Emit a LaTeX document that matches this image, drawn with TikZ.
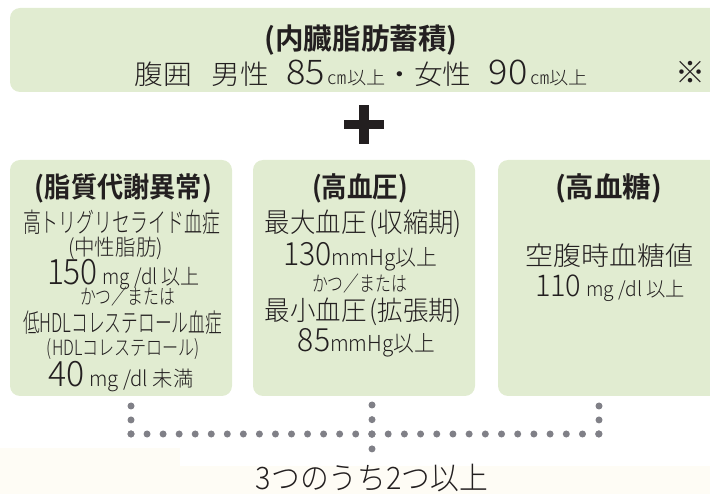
\documentclass[tikz,border=0pt]{standalone}
\usepackage{fontspec}
\usepackage{graphicx}
\setmainfont{Noto Sans CJK JP}[UprightFont=* Light, BoldFont=* Bold]
\definecolor{boxfill}{HTML}{E1ECD1}
\definecolor{ink}{HTML}{231F20}
\definecolor{dotgray}{HTML}{808087}
\definecolor{cream}{HTML}{FEFCF5}
\newcommand\fs[1]{\fontsize{#1}{#1}\selectfont}
\newcommand\lw[2]{\resizebox{#1pt}{\height}{#2}}
\tikzset{
  panel/.style={fill=boxfill, rounded corners=10pt, inner sep=0pt},
  txt/.style={inner sep=0pt, text=ink, anchor=center},
  dotline/.style={draw=dotgray, line width=7pt, line cap=round, dash pattern=on 0pt off #1},
}
\begin{document}
\begin{tikzpicture}[x=1pt,y=-1pt]
\useasboundingbox (0,0) rectangle (710,494);
% faint cream background
\fill[cream] (0,448) rectangle (180,494);
\fill[cream] (180,466) rectangle (710,494);
% panels
\node[panel, minimum width=740pt, minimum height=84pt] (top) at (380,50) {};
\node[panel, minimum width=222pt, minimum height=236pt] (b1) at (121,278) {};
\node[panel, minimum width=222pt, minimum height=236pt] (b2) at (364,278) {};
\node[panel, minimum width=242pt, minimum height=236pt] (b3) at (619,278) {};
% top panel text
\node[txt] (t1) at (361,40) {\lw{193}{\fs{29}\bfseries (内臓脂肪蓄積)}};
\node[txt] (t2) at (361.5,73) {\lw{453}{\fs{27}腹囲\hspace{18pt}男性\hspace{16pt}{\fs{34}85}\hspace{3pt}{\fs{18}㎝以上}・女性\hspace{16pt}{\fs{34}90}\hspace{3pt}{\fs{18}㎝以上}}};
\node[txt] (t3) at (690,72) {\fs{30}※};
% plus sign
\fill[ink] (344,120) rectangle (383.5,129.5);
\fill[ink] (359,105.5) rectangle (368.5,144);
% box 1
\node[txt] (a1) at (123.5,188) {\lw{177}{\fs{28}\bfseries (脂質代謝異常)}};
\node[txt] (a2) at (121.5,222) {\lw{197}{\fs{27}高トリグリセライド血症}};
\node[txt] (a3) at (115.5,248) {\lw{95}{\fs{22}(中性脂肪)}};
\node[txt] (a4) at (123.5,275) {\lw{153}{{\fs{35}150}\hspace{5pt}{\fs{21}mg /dl 以上}}};
\node[txt] (a5) at (127.5,297) {\lw{95}{\fs{21}かつ／または}};
\node[txt] (a6) at (122.5,323) {\lw{199}{\fs{26}低HDLコレステロール血症}};
\node[txt] (a7) at (123.5,349.5) {\lw{153}{\fs{21}(HDLコレステロール)}};
\node[txt] (a8) at (121,377) {\lw{145}{{\fs{35}40}\hspace{5pt}{\fs{21}mg /dl 未満}}};
% box 2
\node[txt] (c1) at (360,188) {\lw{96}{\fs{28}\bfseries (高血圧)}};
\node[txt] (c2) at (363.5,224) {\lw{197}{\fs{27}最大血圧\hspace{3pt}(収縮期)}};
\node[txt] (c3) at (360,257) {\lw{154}{{\fs{32}130}{\fs{22}mmHg以上}}};
\node[txt] (c4) at (359.5,284) {\lw{95}{\fs{21}かつ／または}};
\node[txt] (c5) at (363.5,312) {\lw{197}{\fs{27}最小血圧\hspace{3pt}(拡張期)}};
\node[txt] (c6) at (366.5,343) {\lw{137}{{\fs{32}85}{\fs{22}mmHg以上}}};
% box 3
\node[txt] (d1) at (608.5,188) {\lw{107}{\fs{28}\bfseries (高血糖)}};
\node[txt] (d2) at (609,256) {\lw{168}{\fs{26}空腹時血糖値}};
\node[txt] (d3) at (610,288) {\lw{150}{{\fs{30}110}\hspace{5pt}{\fs{20}mg /dl 以上}}};
% bottom text
\node[txt] (res) at (372,478) {\lw{232}{\fs{31}3つのうち2つ以上}};
% dotted connectors
\coordinate (p1) at (131,406);
\coordinate (j1) at (131,434);
\coordinate (p2) at (372,405);
\coordinate (j2) at (372,434);
\coordinate (q2) at (372,449);
\coordinate (p3) at (599,406);
\coordinate (j3) at (599,434);
\draw[dotline=13.95pt] (p1) -- (j1);
\draw[dotline=16.05pt] (j1) -- (j2);
\draw[dotline=14.64pt] (p2) -- (q2);
\draw[dotline=16.19pt] (j2) -- (j3);
\draw[dotline=13.95pt] (p3) -- (j3);
\end{tikzpicture}
\end{document}
